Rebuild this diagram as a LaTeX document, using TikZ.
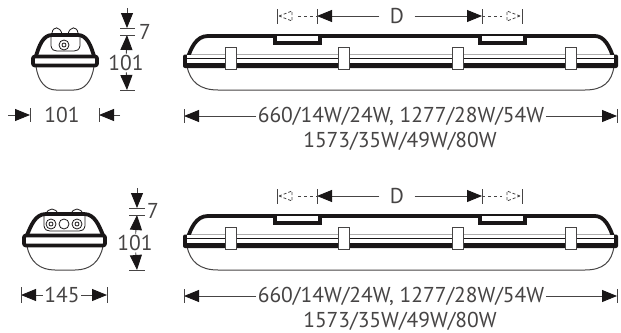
\documentclass[tikz,border=0pt]{standalone}
\usepackage{fontspec}
\setmainfont{PT Sans}
\usetikzlibrary{arrows.meta}
\definecolor{inkcolor}{RGB}{25, 22, 23}
\definecolor{textcolor}{RGB}{70, 68, 68}
\begin{document}
\begin{tikzpicture}[x=1pt, y=-1pt,
    heavy/.style={draw=inkcolor, line width=3.8pt, line join=round},
    lensline/.style={draw=textcolor, line width=1pt},
    fineline/.style={draw=inkcolor, line width=0.8pt},
    clipbox/.style={draw=textcolor, line width=0.8pt, fill=white},
    dimline/.style={draw=textcolor, line width=0.9pt},
    dimarrow/.style={dimline, -{Triangle[length=15pt, width=12pt, inset=0pt, color=inkcolor]}},
    ghostarrow/.style={draw=textcolor, line width=0.8pt, densely dashed, fill=white},
    dimtext/.style={font=\fontsize{21.5}{22}\selectfont, text=textcolor, inner sep=1.5pt}
    ]
    \useasboundingbox (0,0) rectangle (621,332);

    % Side views
    \foreach [count = \i] \rowshift in {0, 180} {
    \begin{scope}[shift={(0,\rowshift)}]
        \draw[lensline] (187,66) .. controls (190,82) and (200,90) .. (218,90) -- (585,90)
            .. controls (603,90) and (612,82) .. (614,66);
        \draw[heavy] (187,60) .. controls (191,48) and (196,36) .. (208,36) -- (595,36)
            .. controls (604,36) and (610,46) .. (614,60);
        \fill[inkcolor, rounded corners=2pt] (183,54.5) rectangle (618,68);
        \fill[white] (187,55.3) rectangle (614,63);
        \draw[fineline] (187,58.5) -- (614,58.5);
        \foreach \pocketx in {273, 478} {
            \fill[inkcolor] (\pocketx,35) rectangle ++(49,10);
            \fill[white] (\pocketx+4,36) rectangle ++(41,5);
        }
        \foreach \clipx in {225, 338, 452, 565} {
            \draw[clipbox] (\clipx,47) rectangle ++(11,22);
        }

        % Dimension D
        \node[dimtext] (D\i) at (397,16) {D};
        \coordinate (tickL\i) at (317,16);
        \coordinate (tickR\i) at (482,16);
        \draw[dimarrow, shorten <=9pt] (D\i) -- (tickL\i);
        \draw[dimarrow, shorten <=9pt] (D\i) -- (tickR\i);
        \foreach \tickx in {277, 317, 482, 522} {
            \draw[dimline] (\tickx,9) -- (\tickx,24);
        }
        \draw[ghostarrow] (279,16) -- (292,11) -- (292,21) -- cycle;
        \draw[ghostarrow] (520,16) -- (507,11) -- (507,21) -- cycle;
        \draw[dimline, dashed] (298,16) -- (317,16);
        \draw[dimline, dashed] (482,16) -- (502,16);

        % Length
        \node[dimtext] (len\i) at (401,116) {660/14W/24W, 1277/28W/54W};
        \node[dimtext] (sub\i) at (400,141) {1573/35W/49W/80W};
        \coordinate (endL\i) at (184,116);
        \coordinate (endR\i) at (617,116);
        \draw[dimarrow] (len\i) -- (endL\i);
        \draw[dimarrow] (len\i) -- (endR\i);
        \draw[dimline] (184,109) -- (184,123);
        \draw[dimline] (617,109) -- (617,123);
    \end{scope}
    }

    % End view, top
    \draw[fineline] (52,33) .. controls (53,26) and (60,26) .. (62,34);
    \draw[fineline] (68,34) .. controls (70,26) and (77,26) .. (78,33);
    \draw[lensline] (36,66) .. controls (38,82) and (46,90) .. (56,90) -- (74,90)
        .. controls (84,90) and (92,82) .. (94,66);
    \draw[fineline] (51,36) -- (51,46) .. controls (52,50) and (54,51) .. (57,51) -- (74,51)
        .. controls (77,51) and (79,50) .. (80,46) -- (80,36);
    \draw[fineline] (64,45) circle (5);
    \draw[fineline] (64,45) circle (2);
    \draw[heavy] (36,56) .. controls (39,46) and (43,35) .. (52,35) -- (78,35)
        .. controls (87,35) and (91,46) .. (94,56);
    \draw[heavy, rounded corners=2pt] (33,56.5) rectangle (97,65.5);
    \fill[white] (35,58.5) rectangle (95,62.5);

    % End view, bottom
    \draw[fineline] (46,215) .. controls (47,207) and (57,207) .. (58,215);
    \draw[fineline] (71,215) .. controls (72,207) and (82,207) .. (83,215);
    \draw[lensline] (27,246) .. controls (30,262) and (40,270) .. (55,270) -- (75,270)
        .. controls (90,270) and (100,262) .. (103,246);
    \draw[fineline] (44,215) -- (44,226) .. controls (45,230) and (47,231) .. (50,231) -- (79,231)
        .. controls (82,231) and (84,230) .. (85,226) -- (85,215);
    \foreach \lensx in {51, 64, 77} {
        \draw[fineline] (\lensx,224) circle (5);
    }
    \draw[fineline] (51,224) circle (2) (77,224) circle (2);
    \draw[heavy] (27,235) .. controls (31,226) and (35,214) .. (46,214) -- (84,214)
        .. controls (95,214) and (99,226) .. (103,235);
    \draw[heavy, rounded corners=2pt] (24,235.5) rectangle (105,245.5);
    \fill[white] (26,237.5) rectangle (103,241.5);

    % Dimensions of the end views
    \node[dimtext] (seven1) at (145,32) {7};
    \node[dimtext] (height1) at (126,63) {101};
    \node[dimtext] (width1) at (62,115) {101};
    \node[dimtext] (seven2) at (153,211) {7};
    \node[dimtext] (height2) at (135,243) {101};
    \node[dimtext] (width2) at (62,295) {145};

    \coordinate (capA1) at (127,8);
    \coordinate (capB1) at (127,28);
    \coordinate (capC1) at (127,35);
    \coordinate (capD1) at (127,90);
    \coordinate (sideA1) at (8,115);
    \coordinate (sideB1) at (30,115);
    \coordinate (sideC1) at (99,115);
    \coordinate (sideD1) at (120,115);
    \draw[dimarrow] (capA1) -- (capB1);
    \draw[dimarrow] (height1) -- (capC1);
    \draw[dimarrow] (height1) -- (capD1);
    \draw[dimarrow] (sideA1) -- (sideB1);
    \draw[dimarrow] (sideD1) -- (sideC1);
    \draw[dimline] (120,28) -- (135,28) (120,35) -- (135,35) (120,90) -- (135,90);
    \draw[dimline] (30,108) -- (30,122) (99,108) -- (99,122);

    \coordinate (capA2) at (137,188);
    \coordinate (capB2) at (137,208);
    \coordinate (capC2) at (137,215);
    \coordinate (capD2) at (137,270);
    \coordinate (sideB2) at (21,295);
    \coordinate (sideC2) at (107,295);
    \draw[dimarrow] (capA2) -- (capB2);
    \draw[dimarrow] (height2) -- (capC2);
    \draw[dimarrow] (height2) -- (capD2);
    \draw[dimarrow] (width2) -- (sideB2);
    \draw[dimarrow] (width2) -- (sideC2);
    \draw[dimline] (129,208) -- (145,208) (129,215) -- (145,215) (129,270) -- (145,270);
    \draw[dimline] (21,287) -- (21,303) (107,287) -- (107,303);
\end{tikzpicture}
\end{document}
